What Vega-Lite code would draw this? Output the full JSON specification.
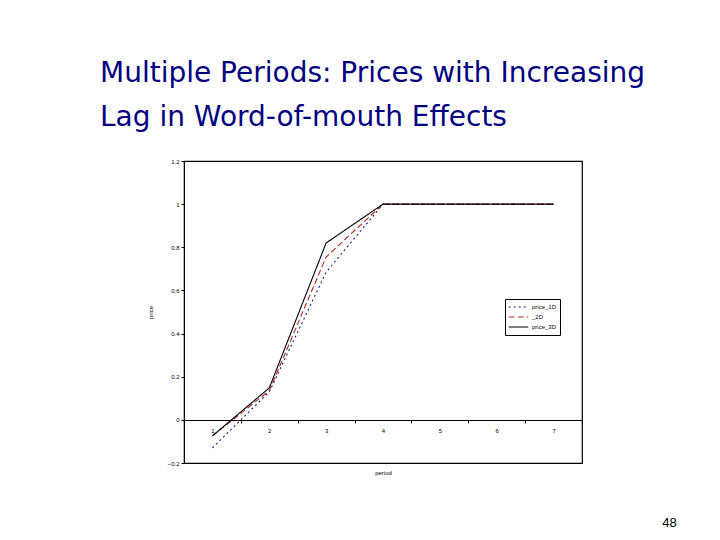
{
  "$schema": "https://vega.github.io/schema/vega-lite/v6.json",
  "autosize": "none",
  "width": 398,
  "height": 302,
  "padding": {"left": 184, "top": 161, "right": 138, "bottom": 77},
  "background": "white",
  "title": {
    "text": ["Multiple Periods: Prices with Increasing", "Lag in Word-of-mouth Effects"],
    "anchor": "start",
    "frame": "group",
    "dx": -84,
    "offset": 26,
    "font": "DejaVu Sans",
    "fontSize": 28,
    "fontWeight": "normal",
    "color": "#000080",
    "lineHeight": 44
  },
  "datasets": {
    "prices": [
      {"period": 1, "series": "price_1D", "price": -0.13},
      {"period": 2, "series": "price_1D", "price": 0.13},
      {"period": 3, "series": "price_1D", "price": 0.685},
      {"period": 4, "series": "price_1D", "price": 1.0},
      {"period": 5, "series": "price_1D", "price": 1.0},
      {"period": 6, "series": "price_1D", "price": 1.0},
      {"period": 7, "series": "price_1D", "price": 1.0},
      {"period": 1, "series": "price_2D", "price": -0.075},
      {"period": 2, "series": "price_2D", "price": 0.135},
      {"period": 3, "series": "price_2D", "price": 0.755},
      {"period": 4, "series": "price_2D", "price": 1.0},
      {"period": 5, "series": "price_2D", "price": 1.0},
      {"period": 6, "series": "price_2D", "price": 1.0},
      {"period": 7, "series": "price_2D", "price": 1.0},
      {"period": 1, "series": "price_3D", "price": -0.074},
      {"period": 2, "series": "price_3D", "price": 0.148},
      {"period": 3, "series": "price_3D", "price": 0.82},
      {"period": 4, "series": "price_3D", "price": 1.0},
      {"period": 5, "series": "price_3D", "price": 1.0},
      {"period": 6, "series": "price_3D", "price": 1.0},
      {"period": 7, "series": "price_3D", "price": 1.0}
    ],
    "page": [{"num": "48"}]
  },
  "layer": [
    {
      "data": {"name": "prices"},
      "mark": {"type": "line", "strokeWidth": 1.1},
      "encoding": {
        "x": {
          "field": "period",
          "type": "ordinal",
          "scale": {"type": "band", "paddingInner": 0, "paddingOuter": 0},
          "axis": {
            "title": "period",
            "offset": -43,
            "labelAngle": 0,
            "tickBand": "extent",
            "tickSize": 3,
            "labelPadding": 4,
            "titlePadding": 36
          }
        },
        "y": {
          "field": "price",
          "type": "quantitative",
          "scale": {"domain": [-0.2, 1.2], "nice": false, "zero": false},
          "axis": {
            "title": "price",
            "values": [-0.2, 0, 0.2, 0.4, 0.6, 0.8, 1, 1.2],
            "format": "~g",
            "grid": false,
            "tickSize": 3,
            "labelPadding": 2,
            "titlePadding": 14
          }
        },
        "color": {
          "field": "series",
          "type": "nominal",
          "scale": {"domain": ["price_1D", "price_2D", "price_3D"], "range": ["#1a1a8c", "#b22a2a", "#000000"]},
          "legend": {
            "title": null,
            "orient": "none",
            "legendX": 321,
            "legendY": 138,
            "labelExpr": "datum.label == 'price_2D' ? '_2D' : datum.label"
          }
        },
        "strokeDash": {
          "field": "series",
          "type": "nominal",
          "scale": {"domain": ["price_1D", "price_2D", "price_3D"], "range": [[2, 3], [6, 3], [1, 0]]},
          "legend": {
            "title": null,
            "orient": "none",
            "legendX": 321,
            "legendY": 138,
            "labelExpr": "datum.label == 'price_2D' ? '_2D' : datum.label"
          }
        }
      }
    },
    {
      "data": {"name": "page"},
      "mark": {"type": "text", "font": "Liberation Sans", "fontSize": 13, "dx": 116, "dy": 60, "baseline": "middle", "align": "center", "color": "black"},
      "encoding": {
        "x": {"datum": 7, "type": "ordinal"},
        "y": {"datum": -0.2, "type": "quantitative"},
        "text": {"field": "num"}
      }
    }
  ],
  "config": {
    "view": {"stroke": "black", "strokeWidth": 1.2},
    "axis": {
      "labelFont": "Liberation Sans",
      "labelFontSize": 6,
      "labelColor": "black",
      "titleFont": "Liberation Sans",
      "titleFontSize": 6,
      "titleFontWeight": "normal",
      "titleColor": "black",
      "domainColor": "black",
      "tickColor": "black"
    },
    "legend": {
      "labelFont": "Liberation Sans",
      "labelFontSize": 6,
      "labelColor": "black",
      "symbolType": "stroke",
      "symbolSize": 380,
      "symbolStrokeWidth": 1.1,
      "fillColor": "white",
      "strokeColor": "black",
      "padding": 3,
      "rowPadding": 0,
      "clipHeight": 10,
      "labelOffset": 3
    }
  }
}
